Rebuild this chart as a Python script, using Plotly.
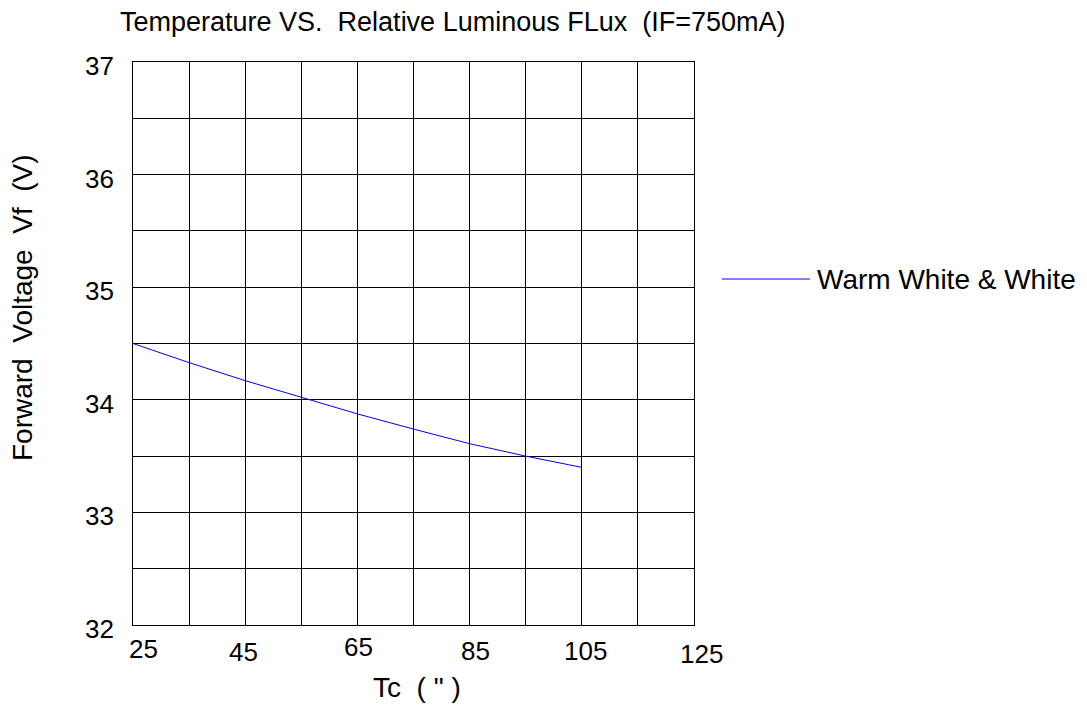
import plotly.graph_objects as go

tc = [25, 35, 45, 55, 65, 75, 85, 95, 105]
vf = [34.50, 34.33, 34.17, 34.02, 33.875, 33.74, 33.61, 33.50, 33.40]
series_name = "Warm White & White"
x_ticks = [25, 45, 65, 85, 105, 125]
x_tick_text = ["25", "45", "65", "85", "105", "125"]
y_ticks = [32, 33, 34, 35, 36, 37]
y_tick_text = ["32", "33", "34", "35", "36", "37"]
title_text = "Temperature VS.\u00a0 Relative Luminous FLux\u00a0 (IF=750mA)"
x_title = "Tc\u00a0 (\u00a0\"\u00a0)"
y_title = "Forward\u00a0 Voltage\u00a0 Vf\u00a0 (V)"

# style: small offsets of the staggered x tick labels (pixels)
x_label_dx = [10, -2, 1, 6, 4, 7]
x_label_yc = [649, 652, 647, 651, 651, 654]

FONT = "Liberation Sans, Arial, sans-serif"

# plot area in page pixels
L, T, W, H = 133, 62, 561, 563


def px(xp):
    return (xp - L) / W


def py(yp):
    return (T + H - yp) / H


fig = go.Figure()
fig.add_trace(go.Scatter(x=tc, y=vf, mode="lines", name=series_name,
                         line=dict(color="#0000ff", width=1), showlegend=False))

fig.update_layout(
    width=1079, height=700,
    margin=dict(l=L - 8, r=1079 - (L - 8) - W, t=T - 8, b=700 - (T - 8) - H),
    paper_bgcolor="white", plot_bgcolor="white",
    font=dict(family=FONT, color="black"),
    xaxis=dict(range=[25, 125], tickvals=x_ticks, showticklabels=False,
               showgrid=True, gridcolor="black", gridwidth=1,
               showline=True, linecolor="black", linewidth=1, mirror=True,
               ticks="", zeroline=False,
               minor=dict(dtick=10, tick0=25, showgrid=True, gridcolor="black", gridwidth=1)),
    yaxis=dict(range=[32, 37], tickvals=y_ticks, showticklabels=False,
               showgrid=True, gridcolor="black", gridwidth=1,
               showline=True, linecolor="black", linewidth=1, mirror=True,
               ticks="", zeroline=False,
               minor=dict(dtick=0.5, tick0=32, showgrid=True, gridcolor="black", gridwidth=1)),
)

for v, t, dx, yc in zip(x_ticks, x_tick_text, x_label_dx, x_label_yc):
    fig.add_annotation(x=v, xref="x", y=py(yc), yref="paper", text=t, showarrow=False,
                       xanchor="center", yanchor="middle", xshift=dx,
                       font=dict(size=26, family=FONT, color="black"))

for v, t in zip(y_ticks, y_tick_text):
    fig.add_annotation(x=px(116), xref="paper", y=v, yref="y", text=t, showarrow=False,
                       xanchor="right", yanchor="middle", yshift=-4,
                       font=dict(size=26, family=FONT, color="black"))

fig.add_annotation(x=px(118), y=py(22), xref="paper", yref="paper", text=title_text,
                   showarrow=False, xanchor="left", yanchor="middle",
                   font=dict(size=27, family=FONT, color="black"))
fig.add_annotation(x=px(417), y=py(687), xref="paper", yref="paper", text=x_title,
                   showarrow=False, xanchor="center", yanchor="middle",
                   font=dict(size=28, family=FONT, color="black"))
fig.add_annotation(x=px(22), y=py(308), xref="paper", yref="paper", text=y_title,
                   showarrow=False, xanchor="center", yanchor="middle", textangle=-90,
                   font=dict(size=28, family=FONT, color="black"))

# legend drawn manually to match the long sample line
fig.add_shape(type="line", xref="paper", yref="paper",
              x0=px(722), x1=px(810), y0=py(279), y1=py(279),
              line=dict(color="#0000ff", width=1))
fig.add_annotation(xref="paper", yref="paper", x=px(815), y=py(279),
                   text=series_name, showarrow=False, xanchor="left", yanchor="middle",
                   font=dict(size=28, family=FONT, color="black"))

fig.write_html("out.html")
